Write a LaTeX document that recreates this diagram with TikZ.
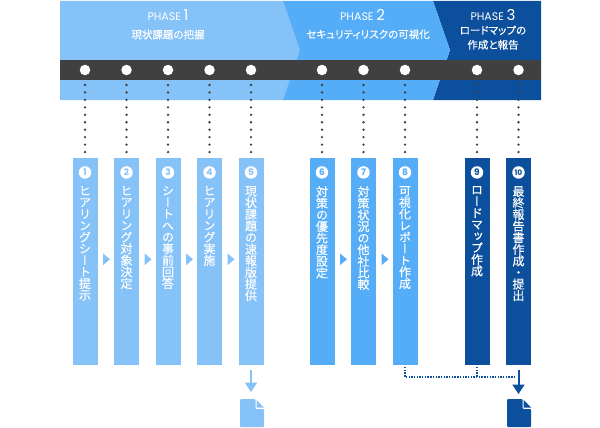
\documentclass[tikz,border=0pt]{standalone}
\usepackage{fontspec}
\usepackage{xcolor}
\usepackage{tikz}
\usetikzlibrary{positioning, arrows.meta, calc, shapes.geometric}
\setmainfont{Poppins}
\newfontfamily\jpfont[RawFeature=+palt, FakeBold=0.2]{Noto Sans CJK JP}
\newfontfamily\jpvert[RawFeature=+vert, FakeBold=0.25]{Noto Sans CJK JP}
\definecolor{phaseone}{HTML}{85C2F8}
\definecolor{phasetwo}{HTML}{55ADF7}
\definecolor{phasethree}{HTML}{0C4F9C}
\definecolor{railgray}{HTML}{404040}
\makeatletter
\def\vjp@next#1{\ifx#1\relax\else\hbox to 12pt{\hss#1\hss}\expandafter\vjp@next\fi}
\newcommand{\vjp}[1]{\vbox{\jpvert\fontsize{12}{11.6}\selectfont\baselineskip=11.6pt\lineskiplimit=-20pt\vjp@next#1\relax}}
\makeatother
\tikzset{
  railstop/.style={circle, fill=white, minimum size=10.5pt, inner sep=0pt},
  stepbox/.style={minimum width=25pt, minimum height=207pt, inner sep=0pt, outer sep=0pt},
  numdot/.style={circle, fill=white, minimum size=12.5pt, inner sep=0pt, font=\fontsize{9}{9}\selectfont\bfseries},
  steptext/.style={text=white, inner sep=0pt, anchor=north},
  phasetext/.style={text=white, align=center, inner sep=0pt},
  dropline/.style={railgray, line width=2.6pt, line cap=round, dash pattern=on 0pt off 7.45pt},
  nextmark/.style={isosceles triangle, isosceles triangle apex angle=80, minimum height=7pt, minimum width=9pt, inner sep=0pt},
  docspot/.style={minimum width=24pt, minimum height=28pt, inner sep=0pt, outer sep=0pt},
  outarrow/.style={line width=2pt, -{Triangle[width=12pt, length=9.5pt]}},
}
\newcommand{\phasehead}[1]{{\fontsize{11}{11}\selectfont PHASE} {\fontsize{15}{15}\selectfont #1}}
\newcommand{\jpsub}{\jpfont\fontsize{10.5}{14}\selectfont}
\newcommand{\docicon}[2]{%
  \fill[#2, rounded corners=1pt] ($(#1.north west)$) -- ++(15.5pt,0pt) |- ($(#1.north east)+(0pt,-10pt)$) -- (#1.south east) -- (#1.south west) -- cycle;
  \fill[#2] ($(#1.north east)+(-7.5pt,-1pt)$) -- ($(#1.north east)+(0pt,-8.5pt)$) -- ($(#1.north east)+(-7.5pt,-8.5pt)$) -- cycle;}

\begin{document}
\begin{tikzpicture}[x=1pt, y=-1pt]
  \useasboundingbox (0,0) rectangle (600,428);
  % phase bands, later ones underneath
  \fill[phasethree] (433,1) -- (541,1) -- (541,100) -- (433,100) -- (450,50) -- cycle;
  \fill[phasetwo] (283,1) -- (433,1) -- (450,50) -- (433,100) -- (283,100) -- cycle;
  \fill[phaseone] (60,1) -- (283,1) -- (300,50) -- (283,100) -- (60,100) -- cycle;
  \fill[railgray] (60,60) rectangle (541,80);

  \node[phasetext, anchor=north] (phaseA) at (168,9) {\phasehead{1}\\[6.5pt]\jpsub 現状課題の把握};
  \node[phasetext, anchor=north] (phaseB) at (368,9) {\hspace*{-11pt}\phasehead{2}\\[6pt]\jpsub セキュリティリスクの可視化};
  \node[phasetext, anchor=north] (phaseC) at (493,9) {\phasehead{3}\\[2pt]\jpsub ロードマップの\\[2.5pt]\jpsub 作成と報告};

  % steps
  \node[stepbox, fill=phaseone] (step1) at (85,261.5) {};
  \node[stepbox, fill=phaseone, right=16.5pt of step1] (step2) {};
  \node[stepbox, fill=phaseone, right=16.5pt of step2] (step3) {};
  \node[stepbox, fill=phaseone, right=16.5pt of step3] (step4) {};
  \node[stepbox, fill=phaseone, right=16.5pt of step4] (step5) {};
  \node[stepbox, fill=phasetwo, right=46pt of step5] (step6) {};
  \node[stepbox, fill=phasetwo, right=16.5pt of step6] (step7) {};
  \node[stepbox, fill=phasetwo, right=16.5pt of step7] (step8) {};
  \node[stepbox, fill=phasethree, right=47pt of step8] (step9) {};
  \node[stepbox, fill=phasethree, right=16.5pt of step9] (step10) {};

  \node[numdot, text=phaseone, below=8pt of step1.north] (num1) {1};
  \node[numdot, text=phaseone, below=8pt of step2.north] (num2) {2};
  \node[numdot, text=phaseone, below=8pt of step3.north] (num3) {3};
  \node[numdot, text=phaseone, below=8pt of step4.north] (num4) {4};
  \node[numdot, text=phaseone, below=8pt of step5.north] (num5) {5};
  \node[numdot, text=phasetwo, below=8pt of step6.north] (num6) {6};
  \node[numdot, text=phasetwo, below=8pt of step7.north] (num7) {7};
  \node[numdot, text=phasetwo, below=8pt of step8.north] (num8) {8};
  \node[numdot, text=phasethree, below=8pt of step9.north] (num9) {9};
  \node[numdot, text=phasethree, below=8pt of step10.north, font=\fontsize{7.5}{7.5}\selectfont\bfseries] (num10) {10};

  \node[steptext, below=7pt of num1.south] (text1) {\vjp{ヒアリングシート提示}};
  \node[steptext, below=7pt of num2.south] (text2) {\vjp{ヒアリング対象決定}};
  \node[steptext, below=7pt of num3.south] (text3) {\vjp{シートへの事前回答}};
  \node[steptext, below=7pt of num4.south] (text4) {\vjp{ヒアリング実施}};
  \node[steptext, below=7pt of num5.south] (text5) {\vjp{現状課題の速報版提供}};
  \node[steptext, below=7pt of num6.south] (text6) {\vjp{対策の優先度設定}};
  \node[steptext, below=7pt of num7.south] (text7) {\vjp{対策状況の他社比較}};
  \node[steptext, below=7pt of num8.south] (text8) {\vjp{可視化レポート作成}};
  \node[steptext, below=7pt of num9.south] (text9) {\vjp{ロードマップ作成}};
  \node[steptext, below=7pt of num10.south] (text10) {\vjp{最終報告書作成・提出}};

  % stops on the rail
  \node[railstop] (stop1) at (step1 |- 0,70) {};
  \node[railstop] (stop2) at (step2 |- 0,70) {};
  \node[railstop] (stop3) at (step3 |- 0,70) {};
  \node[railstop] (stop4) at (step4 |- 0,70) {};
  \node[railstop] (stop5) at (step5 |- 0,70) {};
  \node[railstop] (stop6) at (step6 |- 0,70) {};
  \node[railstop] (stop7) at (step7 |- 0,70) {};
  \node[railstop] (stop8) at (step8 |- 0,70) {};
  \node[railstop] (stop9) at (step9 |- 0,70) {};
  \node[railstop] (stop10) at (step10 |- 0,70) {};

  \draw[dropline] (stop1) ++(0pt,-15pt) -- (step1.north);
  \draw[dropline] (stop2) ++(0pt,-15pt) -- (step2.north);
  \draw[dropline] (stop3) ++(0pt,-15pt) -- (step3.north);
  \draw[dropline] (stop4) ++(0pt,-15pt) -- (step4.north);
  \draw[dropline] (stop5) ++(0pt,-15pt) -- (step5.north);
  \draw[dropline] (stop6) ++(0pt,-15pt) -- (step6.north);
  \draw[dropline] (stop7) ++(0pt,-15pt) -- (step7.north);
  \draw[dropline] (stop8) ++(0pt,-15pt) -- (step8.north);
  \draw[dropline] (stop9) ++(0pt,-15pt) -- (step9.north);
  \draw[dropline] (stop10) ++(0pt,-15pt) -- (step10.north);

  % marks between the steps
  \node[nextmark, fill=phaseone, yshift=2.2pt] (next1) at ($(step1)!.5!(step2)$) {};
  \node[nextmark, fill=phaseone, yshift=2.2pt] (next2) at ($(step2)!.5!(step3)$) {};
  \node[nextmark, fill=phaseone, yshift=2.2pt] (next3) at ($(step3)!.5!(step4)$) {};
  \node[nextmark, fill=phaseone, yshift=2.2pt] (next4) at ($(step4)!.5!(step5)$) {};
  \node[nextmark, fill=phasetwo, yshift=2.2pt] (next6) at ($(step6)!.5!(step7)$) {};
  \node[nextmark, fill=phasetwo, yshift=2.2pt] (next7) at ($(step7)!.5!(step8)$) {};

  % documents
  \node[docspot] (docA) at (252,413) {};
  \node[docspot] (docB) at (519,413) {};
  \docicon{docA}{phaseone}
  \docicon{docB}{phasethree}
  \draw[outarrow, phaseone, shorten <=5pt, shorten >=7pt] (step5.south) -- (step5.south |- docA.north);
  \draw[outarrow, phasethree, shorten <=5pt, shorten >=5pt] (step10.south) -- (step10.south |- docB.north);

  \coordinate (merge) at ($(step10.south)+(-2.5pt,-12pt)$);
  \draw[phasethree, line width=1.1pt, dash pattern=on 1.4pt off 1.3pt, shorten <=2pt] (step8.south) |- (merge);
  \draw[phasethree, line width=1.1pt, dash pattern=on 1.4pt off 1.3pt, shorten <=2pt] (step9.south) -- (step9.south |- merge);
\end{tikzpicture}
\end{document}
